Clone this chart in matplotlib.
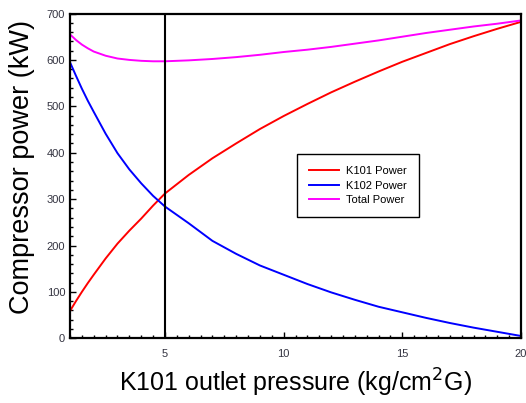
import matplotlib
matplotlib.use("Agg")
import matplotlib.pyplot as plt
from matplotlib.ticker import MultipleLocator

plt.rcParams['font.family'] = ['Liberation Sans', 'DejaVu Sans']

pressure = [1, 1.25, 1.5, 1.75, 2, 2.5, 3, 3.5, 4, 4.5, 5, 6, 7, 8, 9, 10,
            11, 12, 13, 14, 15, 16, 17, 18, 19, 20]
k101_power = [59, 80, 100, 119, 137, 172, 204, 232, 258, 286, 312, 352, 388, 420,
              451, 479, 505, 530, 553, 575, 596, 615, 634, 651, 667, 682]
k102_power = [595, 566, 538, 512, 488, 441, 399, 364, 334, 307, 284, 248, 210, 182,
              157, 137, 117, 99, 83, 68, 56, 44, 33, 23, 14, 5]
total_power = [655, 643, 633, 625, 618, 609, 603, 600, 598, 597, 597, 599, 602, 606,
               611, 617, 622, 628, 635, 642, 650, 658, 665, 672, 678, 685]
marker_pressure = 5

fig = plt.figure(figsize=(5.26, 4.03), dpi=100)
ax = fig.add_axes([70/526, 1-338.3/403, 451/526, 324.8/403])

ax.plot(pressure, k101_power, color='#ff0000', lw=1.4, label='K101 Power')
ax.plot(pressure, k102_power, color='#0000ff', lw=1.4, label='K102 Power')
ax.plot(pressure, total_power, color='#ff00ff', lw=1.4, label='Total Power')
ax.axvline(marker_pressure, color='black', lw=1.5)

ax.set_xlim(1, 20)
ax.set_ylim(0, 700)
ax.set_xticks([5, 10, 15, 20])
ax.xaxis.set_minor_locator(MultipleLocator(0.5))
ax.yaxis.set_major_locator(MultipleLocator(100))
ax.yaxis.set_minor_locator(MultipleLocator(20))
ax.tick_params(which='both', direction='in', top=False, right=False,
               labelsize=8, labelcolor='#333340', width=1)
ax.tick_params(axis='x', which='major', pad=8)
ax.tick_params(which='major', length=4)
ax.tick_params(which='minor', length=2.5)
for s in ax.spines.values():
    s.set_linewidth(1.6)

ax.set_xlabel('K101 outlet pressure (kg/cm$^2$G)', fontsize=18, labelpad=5)
ax.set_ylabel('Compressor power (kW)', fontsize=19.5)
ax.yaxis.set_label_coords(-0.078, 0.527)

leg = ax.legend(loc='upper left', bbox_to_anchor=(0.503, 0.567), fontsize=8,
                frameon=True, fancybox=False, edgecolor='black', framealpha=1,
                handlelength=2.7, handletextpad=0.6, borderpad=1.1,
                labelspacing=0.4, borderaxespad=0)
leg.get_frame().set_linewidth(1.0)

fig.savefig('out.png', dpi=100)
